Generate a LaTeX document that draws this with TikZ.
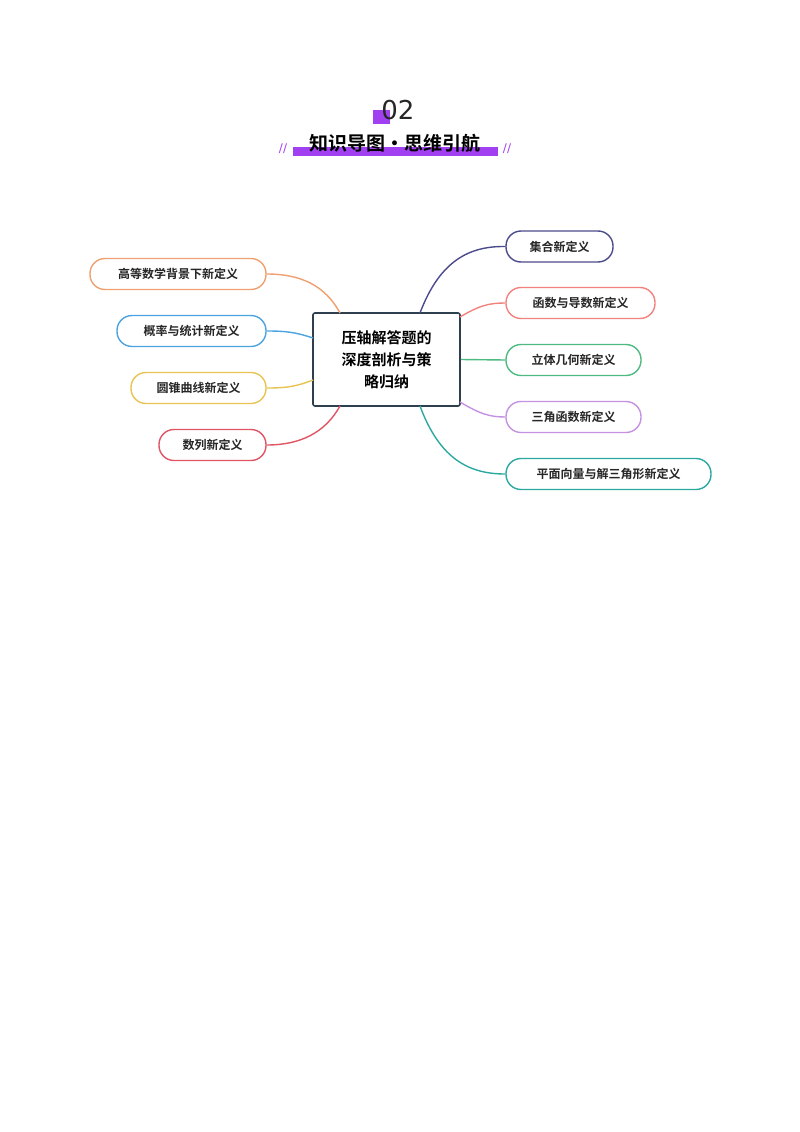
\documentclass[tikz,border=0pt]{standalone}
\usepackage{fontspec}
\setmainfont{Noto Sans CJK SC}
\newfontfamily\cjkb{Noto Sans CJK SC Bold}
\newfontfamily\numf{DejaVu Sans}
\definecolor{cA}{HTML}{4A4A8C}\definecolor{cB}{HTML}{F2827E}\definecolor{cC}{HTML}{4DBA80}
\definecolor{cD}{HTML}{C592E2}\definecolor{cE}{HTML}{2BA9A0}\definecolor{cF}{HTML}{F0A070}
\definecolor{cG}{HTML}{4BA3E0}\definecolor{cH}{HTML}{E8C352}\definecolor{cI}{HTML}{E05464}
\definecolor{hub}{HTML}{2E4050}\definecolor{pur}{HTML}{A040F0}
\tikzset{leaf/.style={draw=#1,line width=1.4pt,rounded corners=15pt,minimum height=31pt,fill=white,font=\cjkb\fontsize{12}{14}\selectfont,text=black!85},
 conn/.style={draw=#1,line width=1.4pt}}
\begin{document}
\begin{tikzpicture}[x=1pt,y=-1pt]
\useasboundingbox (0,0) rectangle (800,1132);
\fill[pur] (373,110) rectangle (390,124);
\node[font=\numf\fontsize{26}{28}\selectfont,text=black!85] (num) at (398,110) {02};
\fill[pur] (293,147) rectangle (498,156);
\node[font=\cjkb\fontsize{19}{22}\selectfont] (title) at (395,143) {知识导图·思维引航};
\node[text=pur,font=\numf\fontsize{12}{12}\selectfont] (sl) at (283,149) {//};
\node[text=pur,font=\numf\fontsize{12}{12}\selectfont] (sr) at (507,149) {//};
\node[draw=hub,line width=1.6pt,rounded corners=2pt,fill=white,minimum width=147pt,minimum height=93pt,align=center,font=\cjkb\fontsize{15}{22}\selectfont] (c) at (386.5,359.5) {压轴解答题的\\深度剖析与策\\略归纳};
\node[leaf=cA,minimum width=107pt] (r1) at (559.5,246.5) {集合新定义};
\node[leaf=cB,minimum width=149pt] (r2) at (580.5,303) {函数与导数新定义};
\node[leaf=cC,minimum width=135pt] (r3) at (573.5,360) {立体几何新定义};
\node[leaf=cD,minimum width=135pt] (r4) at (573.5,417) {三角函数新定义};
\node[leaf=cE,minimum width=205pt] (r5) at (608.5,474) {平面向量与解三角形新定义};
\node[leaf=cF,minimum width=176pt] (l1) at (178,274) {高等数学背景下新定义};
\node[leaf=cG,minimum width=149pt] (l2) at (191.5,331) {概率与统计新定义};
\node[leaf=cH,minimum width=135pt] (l3) at (198.5,388) {圆锥曲线新定义};
\node[leaf=cI,minimum width=107pt] (l4) at (212.5,445) {数列新定义};
\begin{scope}[on background layer/.style={}]
\end{scope}
\draw[conn=cA] (420,313) .. controls (440,260) and (470,246) .. (r1.west);
\draw[conn=cB] (460,317) .. controls (480,305) and (490,303) .. (r2.west);
\draw[conn=cC] (c.east) -- (r3.west);
\draw[conn=cD] (460,402) .. controls (480,414) and (490,417) .. (r4.west);
\draw[conn=cE] (420,406) .. controls (440,460) and (470,474) .. (r5.west);
\draw[conn=cF] (340,313) .. controls (325,285) and (300,274) .. (l1.east);
\draw[conn=cG] (313,338) .. controls (295,332) and (285,331) .. (l2.east);
\draw[conn=cH] (313,380) .. controls (295,387) and (285,388) .. (l3.east);
\draw[conn=cI] (340,406) .. controls (325,433) and (300,445) .. (l4.east);
\end{tikzpicture}
\end{document}
